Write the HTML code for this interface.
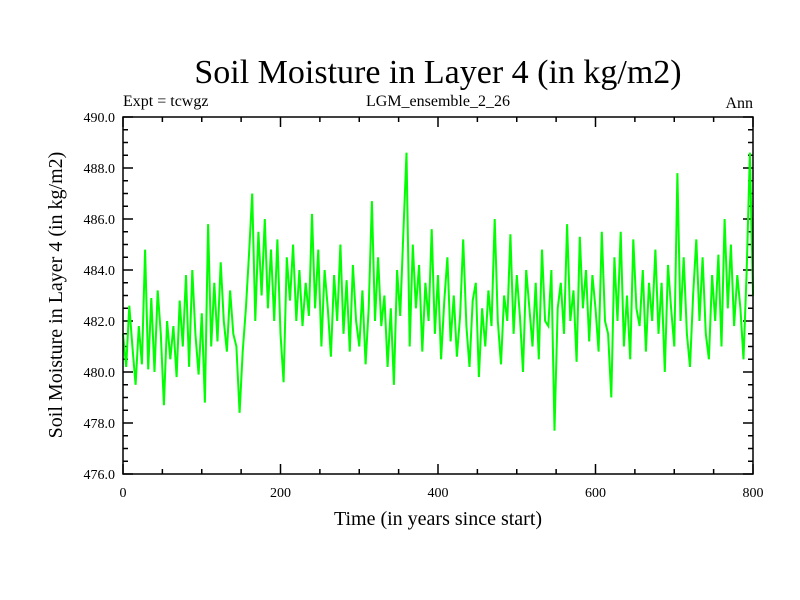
<!DOCTYPE html>
<html><head><meta charset="utf-8"><style>
body{margin:0;background:#fff}
svg{display:block;font-family:"Liberation Serif",serif}
</style></head><body>
<svg id="chart" width="800" height="600">
<rect width="800" height="600" fill="#fff"/>
<text x="438" y="83" font-size="34" text-anchor="middle">Soil Moisture in Layer 4 (in kg/m2)</text>
<text x="123" y="106" font-size="16">Expt = tcwgz</text>
<text x="438" y="106" font-size="16" text-anchor="middle">LGM_ensemble_2_26</text>
<text x="753" y="108" font-size="16" text-anchor="end">Ann</text>
<text x="438" y="525" font-size="20" text-anchor="middle">Time (in years since start)</text>
<text transform="translate(62,295) rotate(-90)" font-size="20" text-anchor="middle">Soil Moisture in Layer 4 (in kg/m2)</text>
<g id="ticks"></g>
<g id="series"></g>
<rect x="123" y="117" width="630" height="357" fill="none" stroke="#000" stroke-width="1.5"/>
</svg>
<script>
const xStart = 0, xStep = 4;
const values = [
481.5,480.2,482.6,481.0,479.5,481.8,480.3,484.8,480.1,482.9,
480.0,483.2,481.5,478.7,482.0,480.5,481.8,479.8,482.8,481.0,
483.8,480.2,484.0,481.5,479.9,482.3,478.8,485.8,481.0,483.5,
481.2,484.3,482.0,480.8,483.2,481.5,481.0,478.4,480.8,482.5,
484.6,487.0,482.0,485.5,483.0,486.0,482.5,484.8,482.0,485.2,
481.5,479.6,484.5,482.8,485.0,482.0,484.0,481.8,483.5,482.2,
486.2,482.5,484.8,481.0,484.0,482.5,480.6,483.8,482.0,485.0,
481.5,483.6,480.8,484.2,482.0,481.0,483.2,480.3,482.5,486.7,
482.0,484.5,481.8,483.0,480.2,482.5,479.5,484.0,482.2,485.5,
488.6,481.0,485.0,482.5,484.2,480.8,483.5,482.0,485.6,481.5,
483.8,480.5,482.8,484.5,481.2,483.0,480.6,482.2,485.2,481.8,
480.2,482.8,483.5,479.8,482.5,481.0,483.2,481.8,486.0,482.0,
480.3,483.0,482.0,485.4,481.5,483.8,482.2,480.0,484.0,482.5,
481.0,483.5,480.5,484.8,482.0,481.8,484.0,477.7,482.5,483.5,
481.5,485.8,482.0,483.2,480.4,485.3,482.5,484.0,481.2,483.8,
482.5,480.8,485.5,482.0,481.5,479.0,484.5,482.0,485.5,481.0,
483.0,480.5,485.2,482.5,481.8,484.0,480.8,483.5,482.0,484.8,
481.5,483.5,480.0,484.2,482.5,481.0,487.8,482.0,484.5,481.5,
480.2,483.0,485.2,482.0,484.5,481.5,480.5,483.8,482.0,484.6,
481.0,486.0,482.5,485.0,481.8,483.8,482.5,480.5,484.0,488.6,
483.0];
const yTickLabels = ["476.0","478.0","480.0","482.0","484.0","486.0","488.0","490.0"];
const xTickLabels = ["0","200","400","600","800"];
const ns = "http://www.w3.org/2000/svg";
const X0=123,X1=753,Y0=474,Y1=117, xMin=0,xMax=800,yMin=476,yMax=490;
const sx = v => X0 + (v-xMin)/(xMax-xMin)*(X1-X0);
const sy = v => Y0 - (v-yMin)/(yMax-yMin)*(Y0-Y1);
const ticks = document.getElementById('ticks');
function line(x1,y1,x2,y2,w){const l=document.createElementNS(ns,'line');l.setAttribute('x1',x1);l.setAttribute('y1',y1);l.setAttribute('x2',x2);l.setAttribute('y2',y2);l.setAttribute('stroke','#000');l.setAttribute('stroke-width',w);ticks.appendChild(l);return l;}
for(let v=yMin; v<=yMax+1e-9; v+=0.5){
  const major = Math.abs((v-yMin)%2)<1e-9, len = major?10:5, y=sy(v);
  const a=line(X0,y,X0+len,y,1.5);
  
  
  const b=line(X1-len,y,X1,y,1.5);
  
  
}
yTickLabels.forEach(s=>{const t=document.createElementNS(ns,'text');t.setAttribute('x',X0-8);t.setAttribute('y',sy(parseFloat(s))+5);t.setAttribute('text-anchor','end');t.setAttribute('font-size','14');t.textContent=s;
  
  
  ticks.appendChild(t);});
for(let v=xMin; v<=xMax; v+=50){
  const major = v%200===0, len = major?10:5, x=sx(v);
  const a=line(x,Y0,x,Y0-len,1.5);
  
  
  const b=line(x,Y1,x,Y1+len,1.5);
  
  
}
xTickLabels.forEach(s=>{const t=document.createElementNS(ns,'text');t.setAttribute('x',sx(parseFloat(s)));t.setAttribute('y',Y0+23);t.setAttribute('text-anchor','middle');t.setAttribute('font-size','14');t.textContent=s;
  
  
  ticks.appendChild(t);});
const pts = values.map((v,i)=>sx(xStart+i*xStep).toFixed(1)+','+sy(v).toFixed(1)).join(' ');
const pl=document.createElementNS(ns,'polyline');
pl.setAttribute('points',pts);pl.setAttribute('fill','none');pl.setAttribute('stroke','#00ff00');pl.setAttribute('stroke-width','2');


document.getElementById('series').appendChild(pl);
</script>
</body></html>
